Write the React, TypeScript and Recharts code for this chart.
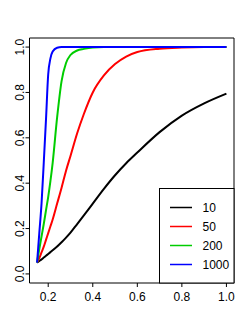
import React from 'react';
import { LineChart, Line, XAxis, YAxis, ReferenceArea } from 'recharts';

const xs = [0.15, 0.16, 0.17, 0.18, 0.19, 0.2, 0.21, 0.22, 0.24, 0.26, 0.28, 0.3, 0.33, 0.36, 0.4, 0.45, 0.5, 0.55, 0.6, 0.7, 0.8, 0.9, 1.0];
const n10 = [0.05, 0.057, 0.064, 0.072, 0.08, 0.088, 0.096, 0.104, 0.121, 0.14, 0.16, 0.182, 0.22, 0.258, 0.31, 0.375, 0.435, 0.488, 0.535, 0.625, 0.698, 0.752, 0.795];
const n50 = [0.05, 0.07, 0.095, 0.12, 0.15, 0.18, 0.21, 0.24, 0.31, 0.38, 0.455, 0.52, 0.62, 0.705, 0.8, 0.875, 0.925, 0.958, 0.978, 0.993, 0.998, 1.0, 1.0];
const n200 = [0.05, 0.11, 0.165, 0.22, 0.28, 0.34, 0.41, 0.49, 0.69, 0.85, 0.93, 0.965, 0.985, 0.992, 0.998, 1.0, 1.0, 1.0, 1.0, 1.0, 1.0, 1.0, 1.0];
const n1000 = [0.05, 0.18, 0.31, 0.49, 0.68, 0.88, 0.95, 0.98, 0.997, 1.0, 1.0, 1.0, 1.0, 1.0, 1.0, 1.0, 1.0, 1.0, 1.0, 1.0, 1.0, 1.0, 1.0];

const xTicks = [0.2, 0.4, 0.6, 0.8, 1.0];
const yTicks = [0, 0.2, 0.4, 0.6, 0.8, 1.0];

const series = [
  { key: 'n10', name: '10', color: '#000000' },
  { key: 'n50', name: '50', color: '#ff0000' },
  { key: 'n200', name: '200', color: '#00cd00' },
  { key: 'n1000', name: '1000', color: '#0000ff' },
];

const data = xs.map((x, i) => ({ x, n10: n10[i], n50: n50[i], n200: n200[i], n1000: n1000[i] }));

const FONT = '"Liberation Sans", Arial, sans-serif';
const X_DOMAIN: [number, number] = [0.116, 1.034];
const Y_DOMAIN: [number, number] = [-0.04, 1.04];

const XTick = ({ x, y, payload }: any) => (
  <text x={x} y={y} dy={12} textAnchor="middle" fontSize={12} fontFamily={FONT} fill="#000">
    {Number(payload.value).toFixed(1)}
  </text>
);

const YTick = ({ x, y, payload }: any) => (
  <text x={x + 0.5} y={y} textAnchor="middle" fontSize={12} fontFamily={FONT} fill="#000"
    transform={`rotate(-90, ${x + 0.5}, ${y})`}>
    {Number(payload.value).toFixed(1)}
  </text>
);

const LegendBox = () => (
  <svg width={78} height={98} style={{ position: 'absolute', left: 159, top: 188 }}>
    <rect x={0.5} y={0.5} width={74.5} height={94.5} fill="#fff" stroke="#000" strokeWidth={1} />
    {series.map((s, i) => (
      <g key={s.key}>
        <line x1={11} x2={33} y1={19.5 + i * 19} y2={19.5 + i * 19} stroke={s.color} strokeWidth={1.5} />
        <text x={43.5} y={24 + i * 19} fontSize={12} fontFamily={FONT} fill="#000">{s.name}</text>
      </g>
    ))}
  </svg>
);

export default function App() {
  return (
    <div style={{ position: 'absolute', left: 0, top: 0, width: 249, height: 332, background: '#fff' }}>
      <LineChart width={249} height={332} data={data} margin={{ top: 38, right: 15, bottom: 0, left: 0 }}>
        <XAxis dataKey="x" type="number" domain={X_DOMAIN} ticks={xTicks} height={49}
          axisLine={false} tickSize={4} tickLine={{ stroke: '#000' }} tick={<XTick />} interval={0} />
        <YAxis type="number" domain={Y_DOMAIN} ticks={yTicks} width={29.5}
          axisLine={false} tickSize={4} tickLine={{ stroke: '#000' }} tick={<YTick />} interval={0} />
        <ReferenceArea x1={X_DOMAIN[0]} x2={X_DOMAIN[1]} y1={Y_DOMAIN[0]} y2={Y_DOMAIN[1]}
          fill="none" fillOpacity={0} stroke="#000" strokeWidth={1} strokeOpacity={1} />
        {series.map((s) => (
          <Line key={s.key} dataKey={s.key} type="monotone" stroke={s.color} strokeWidth={2}
            dot={false} isAnimationActive={false} />
        ))}
      </LineChart>
      <LegendBox />
    </div>
  );
}
